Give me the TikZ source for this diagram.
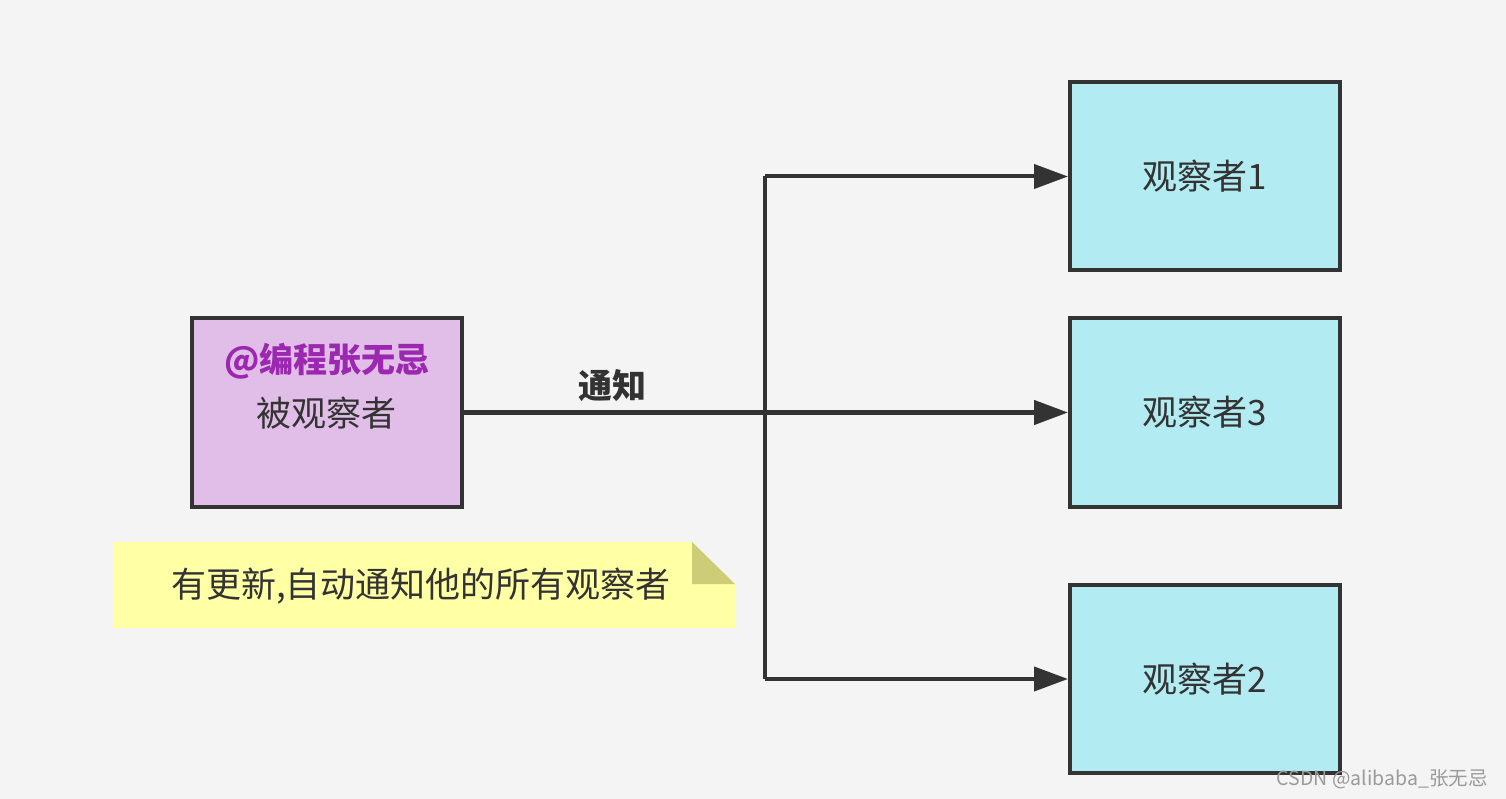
\documentclass[tikz,border=0pt]{standalone}
\usepackage{fontspec}
\setmainfont{Liberation Sans}
\newfontfamily\cjk{Noto Sans CJK SC}
\usetikzlibrary{arrows.meta}
\definecolor{bg}{HTML}{F4F4F4}
\definecolor{ink}{HTML}{333333}
\definecolor{subjfill}{HTML}{E1BEE7}
\definecolor{obsfill}{HTML}{B2EBF2}
\definecolor{purp}{HTML}{9C27B0}
\definecolor{notefill}{HTML}{FFFFA6}
\definecolor{foldfill}{HTML}{CDCD77}
\definecolor{wm}{HTML}{9A9A9A}
\tikzset{
  box/.style={draw=ink, line width=4pt, minimum width=270pt, minimum height=188pt, inner sep=0pt, font=\cjk\fontsize{35}{40}\selectfont, text=ink},
  obsbox/.style={box, fill=obsfill},
  subjbox/.style={box, fill=subjfill},
  conn/.style={draw=ink, line width=4pt},
  arr/.style={conn, -{Triangle[length=34pt,width=24pt]}},
}
\begin{document}
\begin{tikzpicture}[x=1pt,y=-1pt]
\fill[bg] (0,0) rectangle (1506,799);
\useasboundingbox (0,0) rectangle (1506,799);
% nodes
\node[subjbox] (subj) at (326.5,412.5) {};
\node[font=\cjk\bfseries\fontsize{34}{38}\selectfont, text=purp] (subjtitle) at (327,361) {@编程张无忌};
\node[font=\cjk\fontsize{35}{40}\selectfont, text=ink] (subjname) at (326,413) {被观察者};
\node[obsbox] (o1) at (1205,176.5) {观察者1};
\node[obsbox] (o3) at (1205,412.5) {观察者3};
\node[obsbox] (o2) at (1205,679) {观察者2};
% connectors
\coordinate (t1) at (765,176.5);
\coordinate (t2) at (765,679);
\draw[arr, line width=4.5pt] (subj.east) -- (o3.west);
\draw[conn] (t1) -- (t2);
\draw[arr] (t1) -- (o1.west);
\draw[arr] (t2) -- (o2.west);
\node[font=\cjk\bfseries\fontsize{34}{38}\selectfont, text=ink] (lbl) at (612,386) {通知};
% note
\fill[notefill] (113,542) -- (692,542) -- (735,584) -- (735,628) -- (113,628) -- cycle;
\fill[foldfill] (692,542) -- (735,584) -- (692,584) -- cycle;
\node[font=\cjk\fontsize{35}{40}\selectfont, text=ink] (note) at (421,586) {有更新,自动通知他的所有观察者};
% watermark
\node[font=\cjk\fontsize{19.5}{22}\selectfont, text=wm, anchor=east] (wmk) at (1491,779) {CSDN @alibaba\_张无忌};
\end{tikzpicture}
\end{document}
